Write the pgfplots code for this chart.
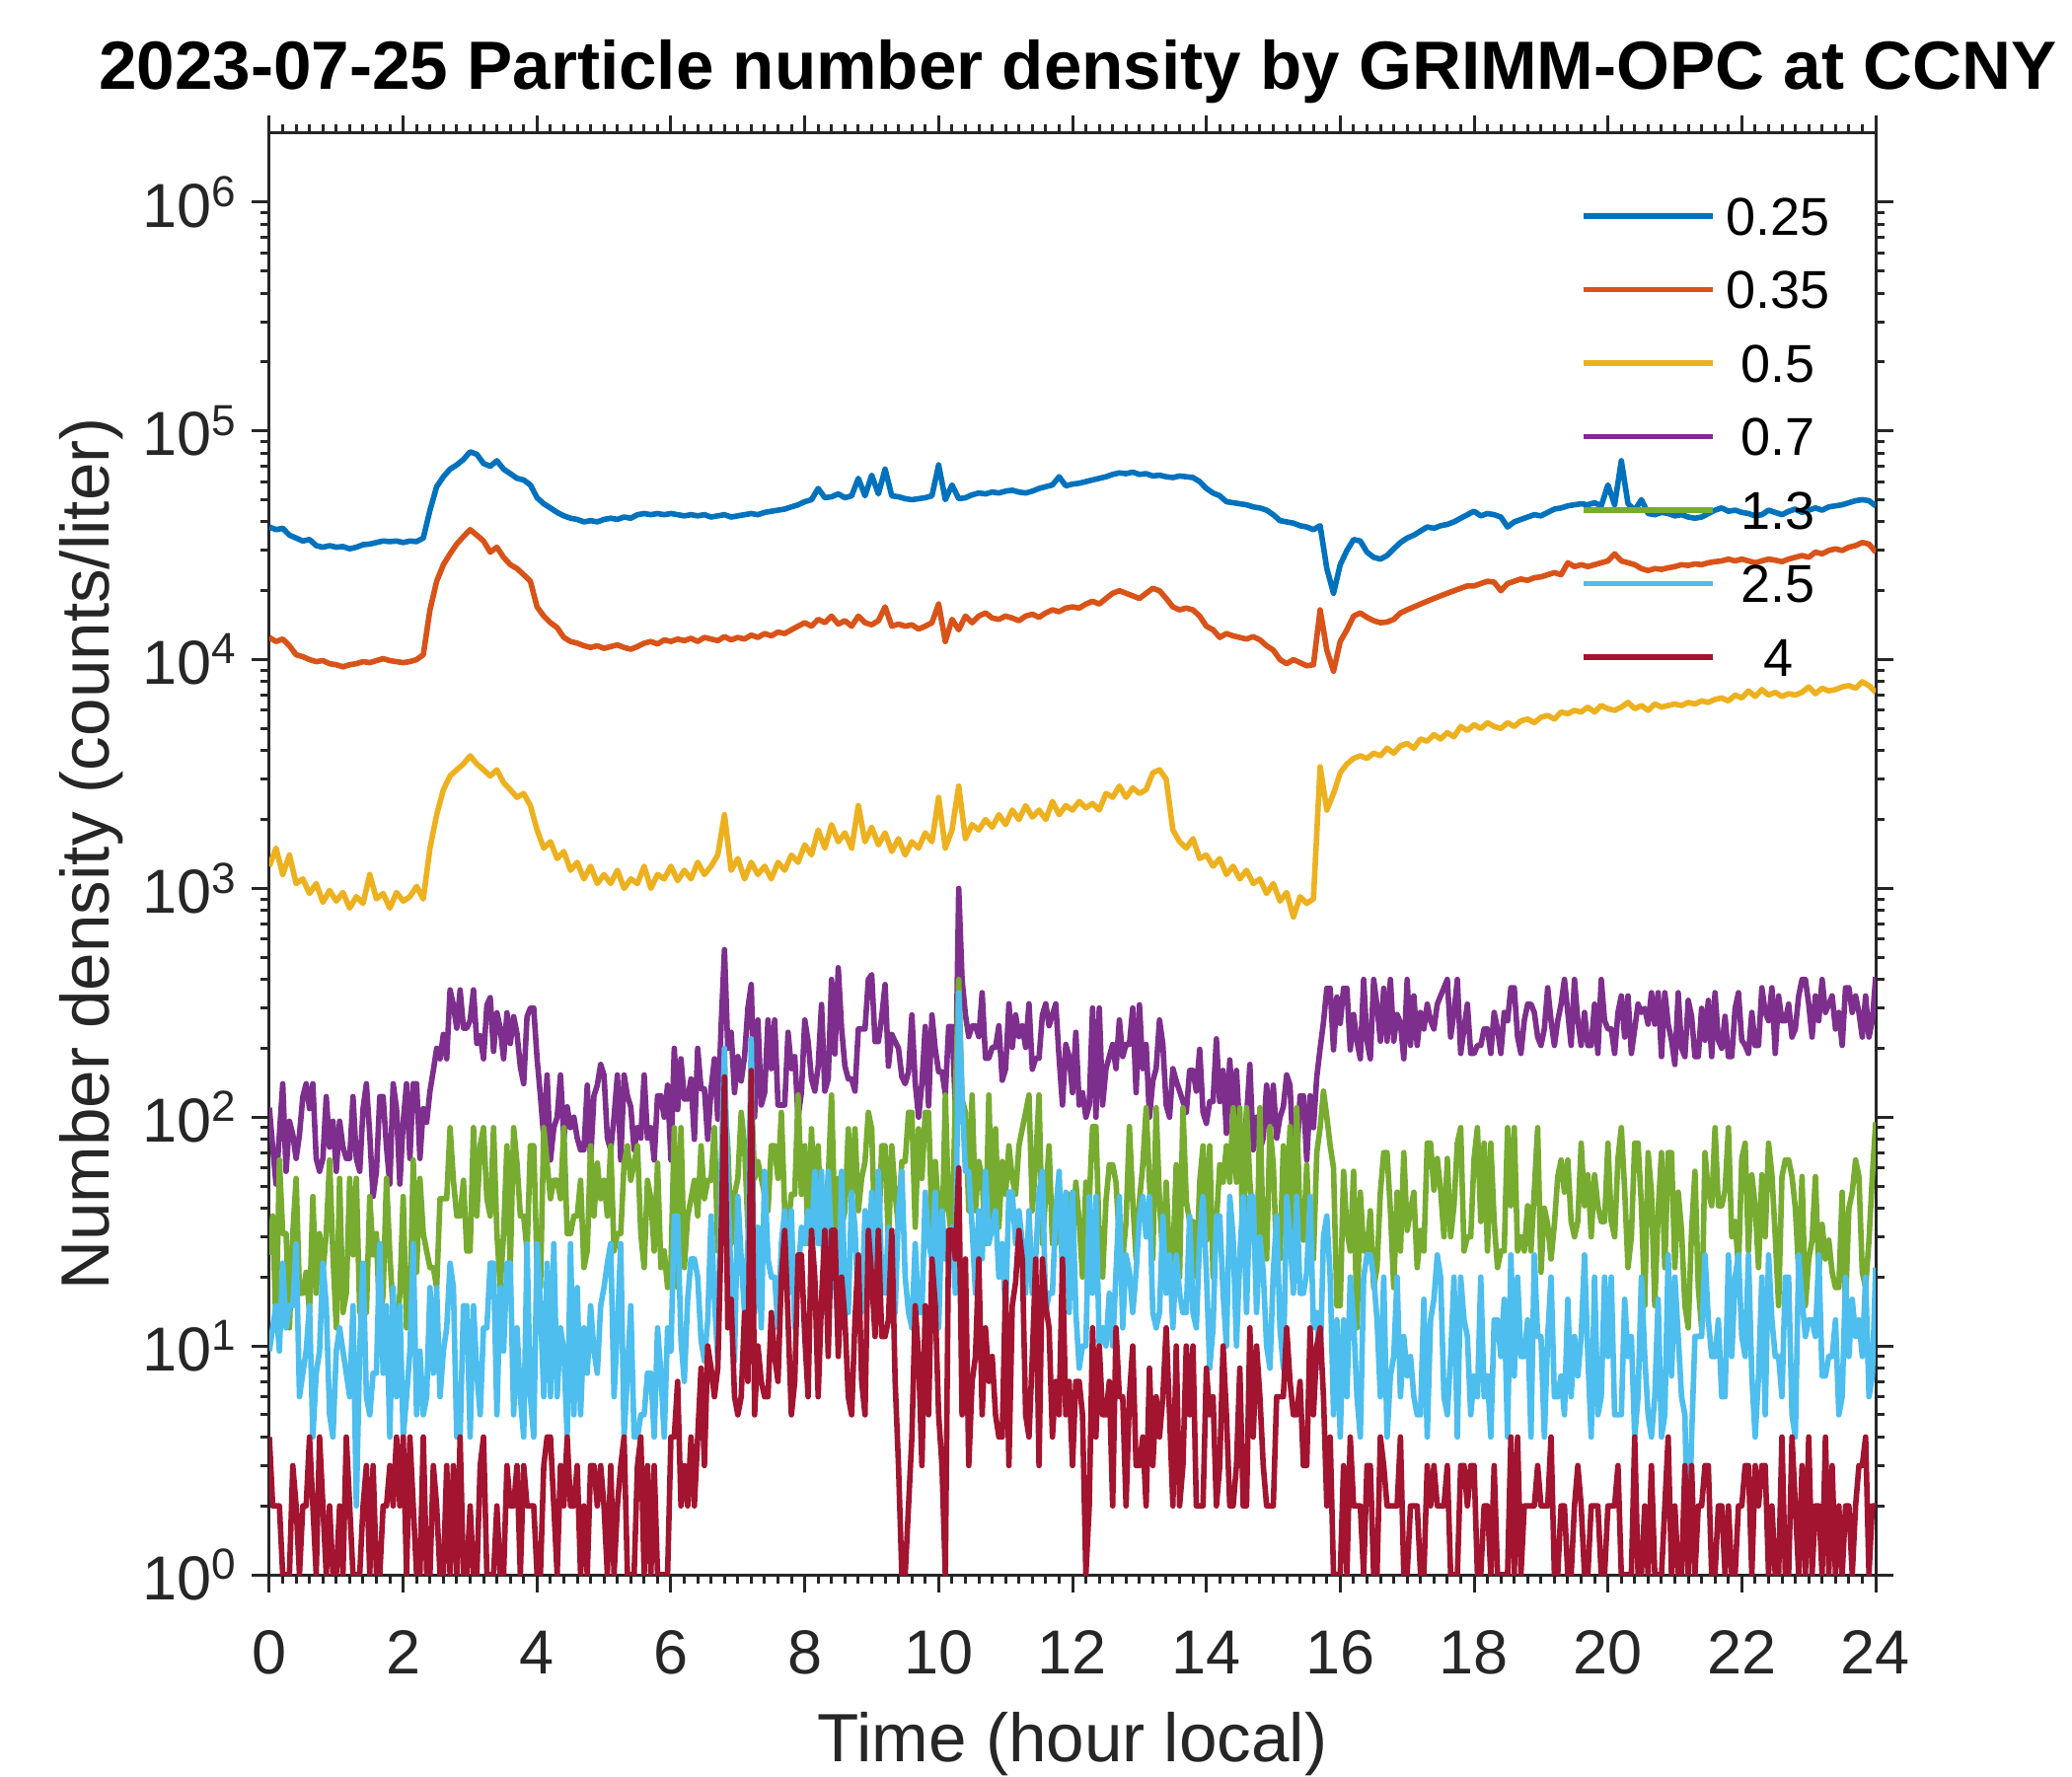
\documentclass[border=0pt]{standalone}
\usepackage{fontspec}
\setmainfont{Liberation Sans}
\usepackage{pgfplots}
\usepackage{pgfplotstable}
\pgfplotsset{compat=1.18}
\usetikzlibrary{calc}
\definecolor{c1}{rgb}{0,0.447,0.741}
\definecolor{c2}{rgb}{0.85,0.325,0.098}
\definecolor{c3}{rgb}{0.929,0.694,0.125}
\definecolor{c4}{rgb}{0.494,0.184,0.556}
\definecolor{c5}{rgb}{0.466,0.674,0.188}
\definecolor{c6}{rgb}{0.301,0.745,0.933}
\definecolor{c7}{rgb}{0.635,0.078,0.184}
\definecolor{axgray}{rgb}{0.15,0.15,0.15}
% smooth channels: 0.25, 0.35, 0.5 um
\pgfplotstableread{
t A B C
0.0 38000 12500 1250
0.1 37000 12000 1500
0.2 37500 12300 1150
0.3 35000 11500 1400
0.4 34000 10500 1050
0.5 33000 10300 1100
0.6 33500 10000 950
0.7 31500 9800 1050
0.8 31000 9900 870
0.9 31500 9600 980
1.0 31000 9500 880
1.1 31200 9300 960
1.2 30500 9500 820
1.3 31000 9600 920
1.4 31800 9800 860
1.5 32000 9700 1150
1.6 32500 9900 900
1.7 33000 10100 950
1.8 32800 9900 820
1.9 33000 9800 960
2.0 32500 9700 880
2.1 33000 9800 920
2.2 32800 10000 1020
2.3 34000 10500 900
2.4 45000 16500 1500
2.5 57000 22000 2100
2.6 63000 26000 2700
2.7 68000 29000 3100
2.8 71000 32000 3300
2.9 75000 34500 3500
3.0 81000 37000 3800
3.1 79000 35000 3500
3.2 72000 33000 3300
3.3 70000 29500 3100
3.4 74000 31000 3300
3.5 68000 28000 2900
3.6 65000 26000 2700
3.7 62000 25000 2500
3.8 61000 23500 2600
3.9 58000 22000 2300
4.0 51000 17000 1800
4.1 48000 15500 1500
4.2 46000 14500 1600
4.3 44000 13800 1350
4.4 42500 12500 1450
4.5 41500 12000 1200
4.6 41000 11800 1300
4.7 40000 11500 1100
4.8 40500 11300 1250
4.9 40000 11500 1050
5.0 41000 11200 1150
5.1 41500 11400 1050
5.2 41000 11600 1200
5.3 42000 11300 1000
5.4 41500 11100 1100
5.5 43000 11400 1050
5.6 43500 11800 1250
5.7 43000 12000 1000
5.8 43500 11700 1150
5.9 43000 12200 1100
6.0 43500 12000 1250
6.1 43000 12300 1080
6.2 42500 12100 1200
6.3 43000 12400 1100
6.4 42500 12000 1300
6.5 43000 12500 1150
6.6 42000 12300 1250
6.7 42500 12100 1400
6.8 43000 12600 2100
6.9 42000 12200 1200
7.0 42500 12500 1350
7.1 43000 12300 1100
7.2 43500 12800 1300
7.3 43000 12500 1150
7.4 44000 13000 1250
7.5 44500 12700 1100
7.6 45000 13200 1300
7.7 45500 13000 1200
7.8 46500 13500 1400
7.9 47500 14000 1300
8.0 49000 14500 1550
8.1 50000 14000 1400
8.2 56000 15000 1800
8.3 51000 14500 1500
8.4 51500 15500 1900
8.5 53000 14300 1600
8.6 51000 14800 1750
8.7 52000 14000 1500
8.8 62000 15500 2300
8.9 52000 14500 1600
9.0 64000 14200 1850
9.1 53000 14800 1550
9.2 68000 17000 1750
9.3 52000 14000 1450
9.4 51500 14300 1650
9.5 50500 14000 1400
9.6 50000 14200 1600
9.7 50500 13600 1500
9.8 51000 14000 1750
9.9 52000 14500 1600
10.0 71000 17500 2500
10.1 50000 12000 1500
10.2 58000 15000 1800
10.3 50500 13500 2800
10.4 51000 15500 1650
10.5 52500 14500 1900
10.6 53500 15500 1800
10.7 53000 16000 2000
10.8 54000 15200 1850
10.9 53500 15000 2100
11.0 54500 15500 1900
11.1 55000 15200 2200
11.2 54000 14800 2000
11.3 53500 15500 2300
11.4 54500 15800 2050
11.5 56000 15300 2200
11.6 57000 16000 2000
11.7 58000 16500 2400
11.8 63000 16200 2100
11.9 57500 16800 2300
12.0 58500 17000 2200
12.1 59000 16800 2400
12.2 60000 17500 2250
12.3 61000 18000 2350
12.4 62000 17500 2200
12.5 63000 18500 2600
12.6 64500 19500 2500
12.7 65500 20000 2800
12.8 65000 19500 2500
12.9 66000 19000 2750
13.0 64500 18500 2600
13.1 65000 19500 2700
13.2 63500 20500 3200
13.3 64000 20000 3300
13.4 63000 18500 3000
13.5 62500 17000 1800
13.6 63500 16500 1600
13.7 63000 16800 1500
13.8 62500 16500 1650
13.9 60000 15500 1350
14.0 56000 14000 1400
14.1 53500 13500 1250
14.2 52000 12500 1350
14.3 49000 13000 1150
14.4 48500 12700 1250
14.5 48000 12500 1100
14.6 47500 12300 1200
14.7 46500 12600 1050
14.8 46000 12200 1100
14.9 45000 11500 950
15.0 43000 11000 1050
15.1 40500 10000 880
15.2 40000 9600 960
15.3 39500 10000 750
15.4 38500 9700 920
15.5 38000 9400 860
15.6 37000 9500 900
15.7 38500 16500 3400
15.8 25000 11000 2200
15.9 19500 8900 2600
16.0 26000 12000 3200
16.1 30000 13500 3500
16.2 33500 15500 3700
16.3 33000 16000 3800
16.4 29500 15300 3700
16.5 28000 14800 3900
16.6 27500 14500 3800
16.7 28500 14600 4100
16.8 30500 15000 3900
16.9 32500 16000 4200
17.0 34000 16500 4300
17.1 35000 17000 4100
17.2 36500 17500 4500
17.3 38000 18000 4400
17.4 37500 18500 4700
17.5 38500 19000 4500
17.6 39000 19500 4800
17.7 40000 20000 4600
17.8 41500 20500 5100
17.9 43000 21000 4900
18.0 44500 21000 5200
18.1 42500 21500 5000
18.2 43500 22000 5300
18.3 43000 21800 5100
18.4 42000 20000 5000
18.5 38000 21500 5300
18.6 40000 22000 5100
18.7 41000 22500 5400
18.8 42000 22200 5500
18.9 43000 22800 5300
19.0 42500 23000 5600
19.1 44000 23500 5700
19.2 45500 24000 5500
19.3 46000 23500 5900
19.4 47000 26500 5800
19.5 47500 25500 6000
19.6 48000 26000 5900
19.7 47500 25500 6200
19.8 48500 26000 5900
19.9 47000 26500 6300
20.0 58000 27000 6100
20.1 47500 29000 6000
20.2 74000 27000 6200
20.3 48000 26500 6500
20.4 45000 26000 6100
20.5 50000 25000 6300
20.6 43500 24500 6000
20.7 43000 25000 6400
20.8 44000 24800 6200
20.9 43500 25200 6300
21.0 42500 25500 6400
21.1 43000 26000 6300
21.2 42000 25800 6500
21.3 41500 26200 6400
21.4 42000 26000 6600
21.5 43500 26500 6500
21.6 45000 26800 6700
21.7 46000 27000 6800
21.8 44500 27500 6600
21.9 45000 27000 7000
22.0 44000 27500 6800
22.1 43500 27000 7300
22.2 42500 26500 6900
22.3 43000 27000 7400
22.4 45000 27500 7000
22.5 44000 27200 7200
22.6 43000 26800 6900
22.7 44500 27500 7100
22.8 45500 28000 7000
22.9 44000 28500 7200
23.0 45000 28000 7600
23.1 46000 29500 7100
23.2 45000 29000 7500
23.3 46500 30000 7300
23.4 47000 30500 7400
23.5 47500 30000 7600
23.6 48500 31000 7700
23.7 49500 31500 7500
23.8 50000 32500 8000
23.9 49500 32000 7700
24.0 47000 29500 7200
}\smoothtable
% noisy channels: 0.7, 1.3, 2.5, 4 um
\pgfplotstableread{
t D E F G
0.00 110 25 9.5 4
0.05 74 37 12 2
0.10 51 12 15 2
0.15 84 65 9.5 2
0.20 140 31 23 1
0.25 58 31 12 1
0.30 96 12 15 1
0.35 84 31 15 3
0.40 66 54 28 2
0.45 84 17 6 1
0.50 123 17 7.6 2
0.55 140 21 9.5 2
0.60 109 14 15 4
0.65 140 45 4 2
0.70 66 17 7.6 1
0.75 58 31 9.5 4
0.80 66 21 23 2
0.85 123 31 15 1
0.90 74 65 5 2
0.95 96 25 4 1
1.00 58 12 9.5 1
1.05 96 54 12 2
1.10 74 14 9.5 1
1.15 66 17 7.6 4
1.20 66 54 6 2
1.25 123 25 15 1
1.30 66 54 2 1
1.35 58 14 9.5 1
1.40 109 14 23 2
1.45 140 14 6 3
1.50 84 45 5 1
1.55 45 25 7.6 3
1.60 58 31 7.6 1
1.65 123 12 28 1
1.70 123 17 7.6 2
1.75 74 54 15 2
1.80 51 25 4 3
1.85 140 14 18 2
1.90 109 12 6 4
1.95 51 17 15 2
2.00 96 45 4 4
2.05 140 12 6 1
2.10 66 14 9.5 4
2.15 140 65 28 2
2.20 140 21 5 1
2.25 66 54 9.5 1
2.30 109 31 5 4
2.35 95 26 6 1
2.40 130 22 18 1
2.45 160 22 7.6 3
2.50 200 18 18 2
2.55 180 44 6 1
2.60 230 44 9.5 1
2.65 180 44 12 3
2.70 360 90 23 1
2.75 309 53 18 3
2.80 245 37 4 1
2.85 360 37 4 4
2.90 245 53 15 1
2.95 245 26 15 1
3.00 265 26 4 2
3.05 360 90 15 1
3.10 210 37 7.6 1
3.15 227 75 5 3
3.20 180 90 12 4
3.25 309 44 12 1
3.30 333 37 23 1
3.35 194 90 23 1
3.40 286 31 5 2
3.45 245 18 18 1
3.50 180 31 9.5 1
3.55 286 75 23 3
3.60 210 22 23 2
3.65 275 90 5 2
3.70 232 63 12 3
3.75 166 37 6 1
3.80 140 37 4 3
3.85 275 26 28 2
3.90 300 75 6 2
3.95 300 75 4 2
4.00 180 22 28 1
4.05 124 18 15 1
4.10 81 90 6 3
4.15 153 63 23 4
4.20 65 44 6 4
4.25 90 53 28 2
4.30 100 53 6 1
4.35 153 44 12 3
4.40 81 90 9.5 2
4.45 111 31 4 4
4.50 90 31 28 2
4.55 100 37 5 2
4.60 81 37 18 3
4.65 72 53 5 1
4.70 72 22 12 2
4.75 138 26 7.6 1
4.80 65 75 15 3
4.85 124 37 9.5 3
4.90 138 63 7.6 2
4.95 170 44 15 3
5.00 153 53 18 2
5.05 81 37 23 1
5.10 72 75 28 3
5.15 100 26 6 1
5.20 153 31 12 2
5.25 65 31 28 3
5.30 153 63 4 4
5.35 124 75 7.6 1
5.40 111 53 15 1
5.45 72 63 4 1
5.50 90 75 4 3
5.55 81 31 5 4
5.60 153 22 5 1
5.65 81 53 7.6 3
5.70 90 44 7.6 1
5.75 65 26 4 3
5.80 124 63 12 1
5.85 124 22 7.6 1
5.90 100 26 4 1
5.95 138 18 12 1
6.00 65 22 9.5 4
6.05 200 90 37 4
6.10 108 18 37 7
6.15 180 90 10.6 2
6.20 120 22 7 3
6.25 120 37 16 2
6.30 147 44 24 4
6.35 80 53 24 2
6.40 200 37 20 4
6.45 133 75 10.6 8
6.50 133 44 8.6 3
6.55 80 53 13 10
6.60 133 53 37 8
6.65 180 90 16 6
6.70 98 26 8.6 8
6.75 250 46 60 30
6.80 540 120 200 150
6.85 200 75 45 12
6.90 235 28 20 16
6.95 128 46 8.6 6
7.00 184 54 45 5
7.05 144 105 24 6
7.10 184 75 14 14
7.15 300 33 28 7
7.20 380 130 220 160
7.25 100 54 14 5
7.30 266 64 33 10
7.35 113 54 12 7
7.40 128 46 58 6
7.45 266 39 24 6
7.50 163 75 20 14
7.55 266 75 20 9
7.60 113 54 12 7
7.65 113 105 28 20
7.70 113 39 39 32
7.75 235 33 17 13
7.80 163 46 39 5
7.85 184 46 12 7
7.90 100 125 20 25
7.95 128 46 33 25
8.00 266 75 28 11
8.05 214 28 39 6
8.10 147 89 28 32
8.15 130 39 58 20
8.20 167 75 28 6
8.25 311 28 58 16
8.30 130 39 14 32
8.35 147 54 58 9
8.40 400 125 28 32
8.45 189 33 20 32
8.50 450 54 12 9
8.55 243 33 58 20
8.60 167 39 17 13
8.65 147 89 14 6
8.70 147 46 47 5
8.75 130 89 33 13
8.80 243 39 14 25
8.85 243 54 14 7
8.90 243 64 39 5
8.95 400 105 20 32
9.00 420 89 47 20
9.05 214 28 14 11
9.10 214 28 58 32
9.15 275 75 20 11
9.20 380 75 17 11
9.25 167 28 33 13
9.30 230 75 14 32
9.35 214 46 14 7
9.40 200 33 39 3
9.45 150 64 58 1
9.50 140 64 20 1
9.55 158 105 14 2
9.60 280 105 12 4
9.65 141 33 28 15
9.70 100 89 14 9
9.75 141 54 14 3
9.80 249 105 47 15
9.85 112 105 28 5
9.90 280 33 24 24
9.95 198 64 47 15
10.00 158 39 12 5
10.05 158 28 39 3
10.10 126 125 24 1
10.15 249 39 24 32
10.20 249 28 33 32
10.25 112 125 17 24
10.30 1000 400 350 60
10.35 400 120 120 5
10.40 280 105 58 24
10.45 225 39 58 3
10.50 251 125 33 7
10.55 251 39 17 9
10.60 225 64 39 24
10.65 350 54 24 5
10.70 181 28 58 12
10.75 181 125 28 7
10.80 202 33 33 9
10.85 202 89 39 5
10.90 251 33 20 4
10.95 145 64 28 4
11.00 162 46 14 19
11.05 313 75 47 3
11.10 202 54 47 15
11.15 280 46 28 19
11.20 225 75 39 32
11.25 251 89 28 24
11.30 202 105 17 5
11.35 313 125 39 4
11.40 162 39 17 9
11.45 181 64 24 24
11.50 181 125 47 3
11.55 280 28 58 24
11.60 313 46 14 15
11.65 251 75 17 12
11.70 280 28 17 4
11.75 313 28 39 7
11.80 181 33 58 5
11.85 113 33 20 24
11.90 208 46 47 5
11.95 184 46 14 7
12.00 128 28 47 3
12.05 235 52 14 7
12.10 113 35 8 7
12.15 128 20 10 5
12.20 100 52 10 1
12.25 113 43 45 2
12.30 300 91 17 12
12.35 100 91 45 4
12.40 300 29 10 10
12.45 113 20 12 5
12.50 163 43 10 5
12.55 184 62 17 7
12.60 208 62 10 2
12.65 163 52 21 12
12.70 266 29 45 6
12.75 184 24 12 6
12.80 208 35 25 2
12.85 208 91 21 6
12.90 300 43 14 10
12.95 128 24 21 3
13.00 310 43 37 3
13.05 163 62 45 4
13.10 208 110 30 2
13.15 100 52 45 8
13.20 144 24 14 3
13.25 163 110 12 6
13.30 266 43 14 4
13.35 208 24 37 6
13.40 113 52 17 12
13.45 100 24 25 5
13.50 163 24 12 2
13.55 144 62 25 10
13.60 130 20 17 2
13.65 117 110 14 3
13.70 105 43 14 10
13.75 160 35 37 5
13.80 160 35 14 10
13.85 130 20 12 2
13.90 198 52 30 2
13.95 105 75 45 2
14.00 94 29 21 8
14.05 117 75 8 5
14.10 117 20 12 6
14.15 220 35 37 2
14.20 117 62 37 3
14.25 160 52 17 10
14.30 85 75 10 5
14.35 178 52 45 2
14.40 105 110 30 2
14.45 160 52 10 3
14.50 85 110 25 8
14.55 81 24 45 2
14.60 100 110 14 2
14.65 170 52 45 12
14.70 72 35 45 4
14.75 100 20 14 10
14.80 72 110 30 6
14.85 81 29 21 3
14.90 138 24 10 2
14.95 90 91 8 2
15.00 138 62 21 2
15.05 81 24 37 6
15.10 100 24 12 6
15.15 111 75 8 6
15.20 153 35 45 12
15.25 138 91 30 7
15.30 65 24 17 5
15.35 65 110 45 5
15.40 124 35 17 7
15.45 124 29 17 3
15.50 65 62 21 3
15.55 124 24 45 12
15.60 90 24 12 5
15.65 150 70 14 10
15.70 200 90 8 12
15.75 260 130 30 6
15.80 366 100 37 2
15.85 366 75 20 4
15.90 197 60 5 1
15.95 335 15 13 1
16.00 257 15 4 1
16.05 366 58 13 3
16.10 366 32 6 1
16.15 197 26 20 4
16.20 281 58 13 2
16.25 215 12 6 2
16.30 180 47 4 2
16.35 400 26 20 1
16.40 215 26 25 3
16.45 180 39 25 3
16.50 400 18 20 1
16.55 307 22 13 1
16.60 215 47 6 4
16.65 366 70 20 3
16.70 215 70 4 2
16.75 400 39 7.4 2
16.80 215 18 9 2
16.85 281 47 20 2
16.90 257 26 6 4
16.95 180 70 11 1
17.00 400 32 7.4 1
17.05 206 39 9 2
17.10 339 47 6 2
17.15 206 22 5 2
17.20 287 32 5 1
17.25 243 26 16 1
17.30 312 77 4 3
17.35 264 77 13 2
17.40 243 48 16 3
17.45 312 66 25 2
17.50 339 48 20 2
17.55 368 30 6 2
17.60 400 66 5 3
17.65 224 30 9 1
17.70 287 41 20 1
17.75 400 77 4 1
17.80 190 90 20 3
17.85 243 26 13 3
17.90 312 30 11 2
17.95 190 30 5 3
18.00 190 66 7.4 3
18.05 206 90 6 1
18.10 206 35 20 1
18.15 243 77 6 2
18.20 243 26 7.4 2
18.25 190 77 4 1
18.30 287 35 13 3
18.35 243 22 13 1
18.40 190 26 9 1
18.45 287 26 16 1
18.50 264 90 4 1
18.55 368 41 25 4
18.60 368 90 7.4 1
18.65 224 26 20 4
18.70 190 30 9 1
18.75 264 26 9 2
18.80 312 41 13 2
18.85 312 26 4 2
18.90 287 48 25 2
18.95 224 90 11 3
19.00 206 21 11 2
19.05 243 40 4 2
19.10 368 34 11 2
19.15 264 24 20 4
19.20 206 34 6 1
19.25 264 55 6 1
19.30 312 65 7.4 2
19.35 400 47 5 2
19.40 287 65 16 1
19.45 206 35 6 1
19.50 400 30 11 2
19.55 264 35 7.4 3
19.60 206 77 11 2
19.65 287 41 25 1
19.70 206 56 9 1
19.75 206 30 4 2
19.80 312 56 20 2
19.85 190 41 5 2
19.90 400 35 6 1
19.95 264 35 20 1
20.00 243 77 9 2
20.05 243 35 20 2
20.10 190 30 5 2
20.15 287 66 5 3
20.20 339 90 5 1
20.25 224 48 16 1
20.30 339 22 9 1
20.35 190 30 11 1
20.40 243 77 4 4
20.45 312 77 6 1
20.50 287 41 20 1
20.55 299 15 9 2
20.60 255 70 5 1
20.65 350 47 4 3
20.70 255 15 6 1
20.75 350 39 16 1
20.80 184 70 4 1
20.85 350 22 5 2
20.90 255 70 25 4
20.95 217 70 7.4 1
21.00 170 22 20 2
21.05 350 47 11 1
21.10 200 32 6 1
21.15 184 15 5 3
21.20 324 12 1 1
21.25 276 32 4 3
21.30 184 58 11 1
21.35 184 18 11 2
21.40 299 12 11 2
21.45 217 70 25 3
21.50 324 47 13 3
21.55 184 41 9 1
21.60 350 90 9 1
21.65 217 41 13 2
21.70 200 41 6 2
21.75 276 48 6 1
21.80 184 90 25 2
21.85 184 30 9 1
21.90 299 35 20 1
21.95 350 22 25 2
22.00 217 66 11 2
22.05 206 77 9 3
22.10 190 26 25 3
22.15 287 56 7.4 1
22.20 206 41 4 3
22.25 206 22 7.4 2
22.30 368 56 20 3
22.35 287 30 5 3
22.40 264 77 25 1
22.45 368 56 13 2
22.50 190 30 9 1
22.55 339 15 9 1
22.60 264 55 6 4
22.65 264 65 20 1
22.70 312 65 20 1
22.75 224 55 5 4
22.80 243 40 4 2
22.85 339 21 25 1
22.90 400 55 16 3
22.95 400 15 11 1
23.00 312 24 13 4
23.05 224 29 13 1
23.10 339 55 11 2
23.15 264 21 25 2
23.20 400 34 7.4 1
23.25 287 24 7.4 4
23.30 312 29 9 1
23.35 339 21 9 3
23.40 243 18 13 1
23.45 287 18 5 2
23.50 206 47 6 1
23.55 368 15 20 2
23.60 368 40 9 2
23.65 287 47 16 1
23.70 339 65 11 2
23.75 287 55 13 3
23.80 224 21 9 3
23.85 339 18 20 4
23.90 224 29 6 1
23.95 264 55 7.4 2
24.00 410 95 22 2
}\noisytable
\begin{document}
\begin{tikzpicture}
\begin{axis}[
  at={(0,0)}, anchor=south west,
  scale only axis, width=407pt, height=365.25pt,
  xmin=0, xmax=24, ymin=1, ymax=2e6,
  ymode=log,
  xtick={0,2,...,24}, minor x tick num=9,
  ytick={1,10,100,1000,10000,100000,1000000},
  yticklabels={10\textsuperscript{0},10\textsuperscript{1},10\textsuperscript{2},10\textsuperscript{3},10\textsuperscript{4},10\textsuperscript{5},10\textsuperscript{6}},
  minor ytick={2,3,4,5,6,7,8,9,20,30,40,50,60,70,80,90,200,300,400,500,600,700,800,900,2000,3000,4000,5000,6000,7000,8000,9000,20000,30000,40000,50000,60000,70000,80000,90000,200000,300000,400000,500000,600000,700000,800000,900000},
  /pgf/number format/assume math mode=true,
  tick align=outside,
  major tick length=4.5pt, minor tick length=2.25pt,
  axis line style={draw=axgray, line width=0.75pt},
  tick style={draw=axgray, line width=0.75pt},
  tick label style={font=\fontsize{15.75}{18}\selectfont, text=axgray},
  xticklabel style={anchor=base, yshift=-20.75pt},
  xlabel={Time (hour local)},
  ylabel={Number density (counts/liter)},
  label style={font=\fontsize{17.3}{20}\selectfont, text=axgray},
  x label style={at={(axis description cs:0.5,0)}, anchor=base, yshift=-47.25pt},
  y label style={at={($(axis description cs:0,0.5)+(-40.5pt,0pt)$)}, anchor=base, rotate=0},
  title={2023-07-25 Particle number density by GRIMM-OPC at CCNY},
  title style={at={(axis description cs:0.5,1)}, anchor=base, yshift=5pt, xshift=1.4pt, font=\bfseries\fontsize{17.3}{20}\selectfont, text=black},
  legend cell align=center,
  legend image code/.code={\draw[#1] (0pt,0pt) -- (32.75pt,0pt);},
  legend style={at={(axis description cs:0.8163,0.9558)}, anchor=north west, draw=none, fill=none,
    inner sep=0pt, outer sep=0pt, row sep=8.925pt, column sep=2.75pt,
    font=\fontsize{13.5}{16}\selectfont, text=black,
    nodes={inner sep=0pt, text height=9.7pt, text depth=0pt}},
  every axis plot/.append style={line width=1.4pt, line join=round},
  no markers,
]
\addplot[c1] table[x=t,y=A]{\smoothtable};
\addplot[c2] table[x=t,y=B]{\smoothtable};
\addplot[c3] table[x=t,y=C]{\smoothtable};
\addplot[c4] table[x=t,y=D]{\noisytable};
\addplot[c5] table[x=t,y=E]{\noisytable};
\addplot[c6] table[x=t,y=F]{\noisytable};
\addplot[c7] table[x=t,y=G]{\noisytable};
\legend{0.25,0.35,0.5,0.7,1.3,2.5,4}
\end{axis}
\pgfresetboundingbox
\path[use as bounding box] (-68.25pt,-51pt) rectangle (456.75pt,399pt);
\end{tikzpicture}
\end{document}
